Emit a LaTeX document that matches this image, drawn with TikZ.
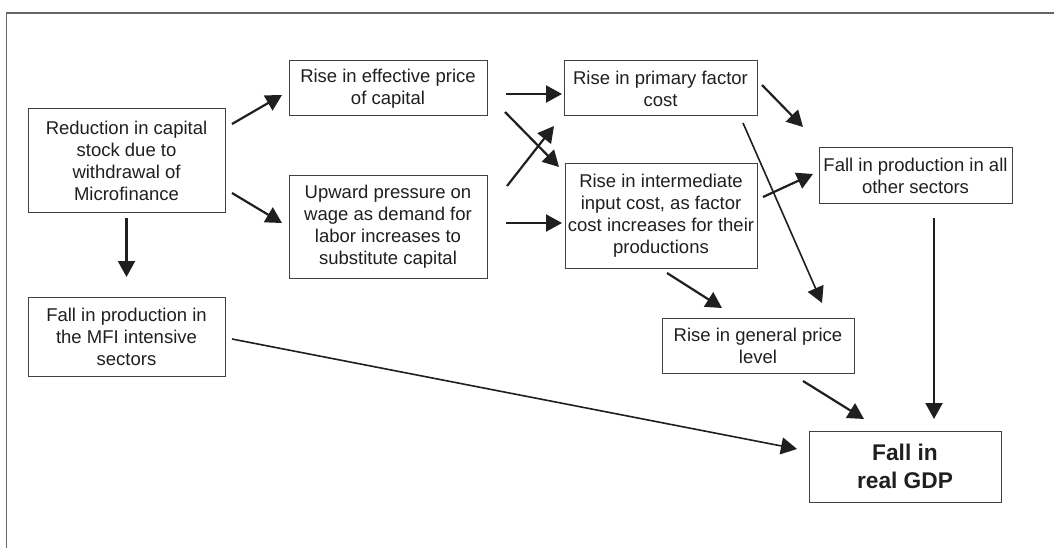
\documentclass[tikz,border=0pt]{standalone}
\usepackage{fontspec}
\setmainfont{Liberation Sans}
\usetikzlibrary{arrows.meta,calc}
\tikzset{
  box/.style={draw=black!75, line width=1pt, inner sep=0pt, align=center,
    text=black!88, font=\fontsize{18.5}{22}\selectfont},
  conn/.style={line width=2.2pt, draw=black!88, -{Triangle[length=16pt,width=17pt]}},
  thinconn/.style={conn, line width=1.6pt},
}
\begin{document}
\begin{tikzpicture}[x=1pt,y=-1pt]
\useasboundingbox (0,0) rectangle (1054,548);
\draw[black!60, line width=1.3pt] (6.5,548) -- (6.5,13) -- (1054,13);
\node[box, minimum width=197pt, minimum height=103pt] (A) at (126.5,160.5) {Reduction in capital\\stock due to\\withdrawal of\\Microfinance};
\node[box, minimum width=198pt, minimum height=55pt] (B) at (388,88.5) {Rise in effective price\\of capital};
\node[box, minimum width=198pt, minimum height=102pt] (C) at (388,227) {Upward pressure on\\wage as demand for\\labor increases to\\substitute capital};
\node[box, minimum width=193pt, minimum height=55pt] (D) at (660.5,88.5) {Rise in primary factor\\cost};
\node[box, minimum width=192pt, minimum height=104pt] (E) at (661,216) {Rise in intermediate\\input cost, as factor\\cost increases for their\\productions};
\node[box, minimum width=193pt, minimum height=55pt] (F) at (915.5,175.5) {Fall in production in all\\other sectors};
\node[box, minimum width=197pt, minimum height=79pt] (G) at (126.5,336.5) {Fall in production in\\the MFI intensive\\sectors};
\node[box, minimum width=192pt, minimum height=55pt] (H) at (758,345.5) {Rise in general price\\level};
\node[box, minimum width=192pt, minimum height=71pt, font=\fontsize{22.7}{28}\selectfont\bfseries] (I) at (905,466.5) {Fall in\\real GDP};
\draw[conn] ($(A.center)+(105.5,-36.5)$) -- ($(B.center)+(-106,6.5)$);
\draw[conn] ($(A.center)+(105.5,32.5)$) -- ($(C.center)+(-106,-4)$);
\draw[conn] ($(A.center)+(0,57.5)$) -- ($(G.center)+(0,-59.5)$);
\draw[conn] ($(B.center)+(118,5.5)$) -- ($(D.center)+(-98.5,5.5)$);
\draw[conn] ($(B.center)+(117,23.5)$) -- ($(E.center)+(-102,-49)$);
\draw[conn] ($(C.center)+(119,-41)$) -- ($(D.center)+(-106.5,37.5)$);
\draw[conn] ($(C.center)+(118,-4)$) -- ($(E.center)+(-99,7)$);
\draw[conn] ($(D.center)+(101.5,-3.5)$) -- ($(F.center)+(-112.5,-48.5)$);
\draw[conn] ($(E.center)+(102,-19)$) -- ($(F.center)+(-102.5,-1.5)$);
\draw[thinconn] ($(D.center)+(82.5,34.5)$) -- ($(H.center)+(64,-42.5)$);
\draw[conn] ($(E.center)+(6,57)$) -- ($(H.center)+(-36,-37.5)$);
\draw[conn] ($(F.center)+(18.5,42.5)$) -- ($(I.center)+(29,-47.5)$);
\draw[conn] ($(H.center)+(45,35.5)$) -- ($(I.center)+(-41,-47.5)$);
\draw[thinconn] ($(G.center)+(105.5,2.5)$) -- ($(I.center)+(-108,-17.5)$);
\end{tikzpicture}
\end{document}
